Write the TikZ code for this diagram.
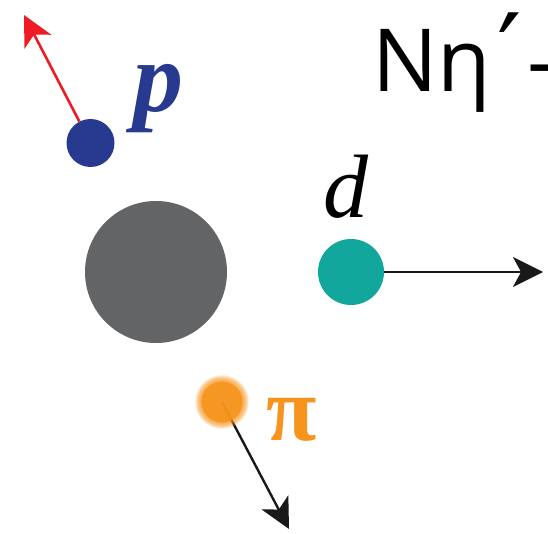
\documentclass[tikz,border=0pt]{standalone}
\usepackage{fontspec}
\usetikzlibrary{arrows.meta}
\newfontfamily\titlefont{Open Sans}
\newfontfamily\primefont{DejaVu Sans}
\newfontfamily\serifit{Liberation Serif}
\definecolor{nucgray}{RGB}{99,100,102}
\definecolor{dteal}{RGB}{18,167,157}
\definecolor{pblue}{RGB}{40,58,143}
\definecolor{arrred}{RGB}{237,28,36}
\definecolor{pion}{RGB}{247,148,29}
\begin{document}
\begin{tikzpicture}[x=1pt,y=-1pt,
  particle/.style={circle, inner sep=0pt, minimum size=#1},
  tip/.style={-{Stealth[length=30pt,width=30pt,inset=8pt]}},
  momentum/.style={tip, line width=2.4pt},
  lbl/.style={inner sep=0pt, anchor=base west}]
\useasboundingbox (0,0) rectangle (548,534);
% nucleus
\node[particle=142pt, fill=nucgray] (nuc) at (156,272) {};
% deuteron
\node[particle=66pt, fill=dteal] (d) at (351,272) {};
\coordinate (dtip) at (543,272);
\draw[momentum, black!90] (d.east) -- (dtip);
\node[lbl, font=\serifit\itshape\fontsize{90}{90}\selectfont] (dlab) at (323,218) {d};
% proton
\node[particle=48pt, fill=pblue] (p) at (90.5,143) {};
\coordinate (ptip) at (24,15);
\draw[momentum, arrred, line width=2.6pt] (p) -- (ptip);
\node[lbl, text=pblue, font=\serifit\bfseries\itshape\fontsize{100}{100}\selectfont] (plab) at (133,112) {p};
% pion
\coordinate (pic) at (222,402);
\coordinate (pitip) at (289,529);
\draw[momentum, black!90] (pic) -- (pitip);
\foreach \r in {20.5,21,...,27} {\fill[pion, opacity=0.1] (pic) circle (\r);}
\node[particle=41pt, fill=pion, fill opacity=0.88] (pi) at (pic) {};
\node[lbl, text=pion, font=\serifit\bfseries\fontsize{92}{92}\selectfont] (pilab) at (266,440) {π};
% title
\node[lbl, font=\titlefont\fontsize{87}{87}\selectfont] (title) at (372,92) {Nη\kern6pt{\primefont\fontsize{108}{108}\selectfont ′}\kern6pt-};
\end{tikzpicture}
\end{document}
